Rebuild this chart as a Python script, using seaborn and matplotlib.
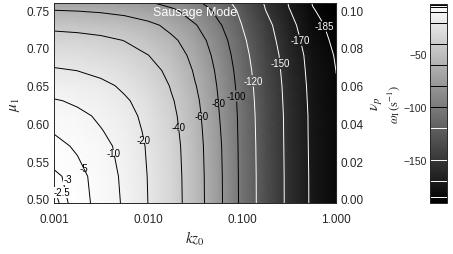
import numpy as np
import matplotlib
matplotlib.use("Agg")
import matplotlib.pyplot as plt
from matplotlib.colors import Normalize
from matplotlib.ticker import MultipleLocator
import seaborn as sns

# grid: kz0 (log axis) x mu1 rows, omega_I in s^-1
kz0 = [0.001, 0.00178, 0.00316, 0.00562, 0.01, 0.0178, 0.0316,
       0.0562, 0.1, 0.178, 0.316, 0.562, 1.0]
mu1 = [0.49, 0.53, 0.57, 0.59, 0.61, 0.63, 0.65, 0.67, 0.69, 0.71, 0.73, 0.75, 0.77]

omega_049 = [-2.2, -3.6, -6.4, -10.9, -20.0, -32.5, -51.8, -76.1, -105.6, -132.5, -156.0, -173.5, -183.5]
omega_053 = [-2.65, -3.9, -6.9, -11.4, -20.4, -32.9, -52.1, -76.3, -105.8, -132.6, -156.1, -173.6, -183.7]
omega_057 = [-4.2, -5.5, -8.1, -12.6, -21.4, -33.9, -52.9, -77.0, -106.3, -133.0, -156.5, -174.0, -184.0]
omega_059 = [-5.2, -6.8, -9.6, -14.5, -22.5, -35.2, -53.8, -78.0, -106.6, -133.5, -156.6, -174.2, -184.1]
omega_061 = [-7.0, -8.5, -11.3, -16.1, -24.0, -36.5, -54.9, -79.1, -106.9, -134.0, -156.7, -174.3, -184.2]
omega_063 = [-9.5, -11.1, -13.8, -18.5, -26.2, -38.5, -56.5, -80.3, -107.8, -134.9, -157.4, -174.9, -184.4]
omega_065 = [-13.4, -15.0, -17.6, -22.1, -29.6, -41.5, -59.0, -82.3, -109.2, -135.8, -158.2, -175.5, -184.6]
omega_067 = [-18.7, -20.1, -22.6, -26.9, -34.1, -45.5, -62.3, -84.8, -111.0, -137.4, -159.5, -176.3, -185.1]
omega_069 = [-25.2, -26.5, -28.9, -32.9, -39.7, -50.5, -66.5, -88.1, -113.5, -139.0, -160.8, -177.2, -186.2]
omega_071 = [-33.2, -34.5, -36.6, -40.4, -46.6, -56.7, -71.7, -92.1, -116.4, -142.0, -163.4, -179.4, -188.1]
omega_073 = [-44.2, -45.3, -47.3, -50.6, -56.2, -65.2, -78.8, -97.6, -120.2, -145.0, -166.0, -181.5, -190.0]
omega_075 = [-60.1, -61.0, -62.6, -65.4, -70.0, -77.6, -89.3, -105.6, -125.8, -150.0, -169.5, -184.3, -192.5]
omega_077 = [-79.4, -80.1, -81.3, -83.5, -87.1, -93.1, -102.4, -115.8, -132.9, -155.0, -173.0, -187.0, -195.0]

levels = [-185, -170, -150, -120, -100, -80, -60, -40, -20, -10, -5, -3, -2.5]
line_colors = ["white"] * 4 + ["black"] * 9
# where each contour label sits (kz0, mu1), same order as levels
label_spots = [(0.76, 0.729), (0.385, 0.709), (0.235, 0.679), (0.122, 0.656),
               (0.080, 0.636), (0.059, 0.627), (0.037, 0.610), (0.022, 0.595),
               (0.0098, 0.579), (0.0047, 0.562), (0.0022, 0.542),
               (0.00141, 0.526), (0.00122, 0.509)]

xticks = [0.001, 0.01, 0.1, 1.0]
xtick_labels = ["0.001", "0.010", "0.100", "1.000"]
nu_ticks = [0.0, 0.02, 0.04, 0.06, 0.08, 0.10]
cbar_ticks = [-50, -100, -150]

omega = np.array([omega_049, omega_053, omega_057, omega_059, omega_061,
                  omega_063, omega_065, omega_067, omega_069, omega_071,
                  omega_073, omega_075, omega_077])

sns.set_style("ticks")
plt.rcParams["font.family"] = ["Liberation Sans", "DejaVu Sans"]
plt.rcParams["mathtext.fontset"] = "stix"

fig = plt.figure(figsize=(4.53, 2.55), dpi=100)
ax = fig.add_axes([0.119, 0.2, 0.623, 0.783])

cmap = sns.color_palette("gray", as_cmap=True)
norm = Normalize(vmin=-191, vmax=-2.2)
mesh = ax.pcolormesh(kz0, mu1, omega, cmap=cmap, norm=norm,
                     shading="gouraud", rasterized=True)
ax.set_xscale("log")
ax.set_xlim(0.001, 1.0)
ax.set_ylim(0.4947, 0.759)

# one contour set per level so each label lands on its own line
for lev, col, spot in zip(levels, line_colors, label_spots):
    cs = ax.contour(kz0, mu1, omega, levels=[lev], colors=col,
                    linewidths=0.7, linestyles="solid")
    if lev > -4:
        # the tiny corner contours: plain text on a patch of the local shade
        ax.text(spot[0], spot[1], f"{lev:g}", fontsize=7, color=col,
                ha="center", va="center",
                bbox=dict(boxstyle="square,pad=0.05", fc=cmap(norm(lev)),
                          ec="none"))
        continue
    texts = ax.clabel(cs, fmt=lambda v: f"{v:g}", manual=[spot],
                      fontsize=7, inline=True, inline_spacing=-4)
    for t in texts:
        t.set_rotation(0)

ax.text(0.5, 0.955, "Sausage Mode", transform=ax.transAxes, color="white",
        fontsize=9, ha="center", va="center")

ax.set_xticks(xticks, labels=xtick_labels)
ax.yaxis.set_major_locator(MultipleLocator(0.05))
ax.yaxis.set_minor_locator(MultipleLocator(0.01))
ax.yaxis.set_major_formatter("{x:.2f}")
ax.tick_params(which="both", direction="in", top=True, right=False,
               labelsize=8.5, width=0.6)
ax.tick_params(which="major", length=5, pad=7)
ax.tick_params(axis="y", which="major", pad=3)
ax.tick_params(which="minor", length=2.5)
ax.set_xlabel(r"$kz_0$", fontsize=11, labelpad=3)
ax.set_ylabel(r"$\mu_1$", fontsize=11, labelpad=3)
for sp in ax.spines.values():
    sp.set_linewidth(0.7)

sec = ax.secondary_yaxis("right", functions=(lambda m: (m - 0.5) / 2.5,
                                             lambda n: 0.5 + 2.5 * n))
sec.set_yticks(nu_ticks)
sec.yaxis.set_major_formatter("{x:.2f}")
sec.yaxis.set_minor_locator(MultipleLocator(0.005))
sec.tick_params(which="both", direction="in", labelsize=8.5, width=0.6, pad=3)
sec.tick_params(which="major", length=5)
sec.tick_params(which="minor", length=2.5)
sec.set_ylabel(r"$\nu_p$", fontsize=11, rotation=90, labelpad=3)

cax = fig.add_axes([0.949, 0.2, 0.038, 0.78])
cbar = fig.colorbar(mesh, cax=cax)
cbar.add_lines(levels, line_colors, [0.7] * len(levels))
cbar.set_ticks(cbar_ticks)
cbar.ax.yaxis.set_ticks_position("left")
cbar.ax.yaxis.set_label_position("left")
cbar.ax.tick_params(labelsize=7.5, length=0, pad=2)
cbar.set_label(r"$\omega_{\rm I}\,({\rm s}^{-1})$", fontsize=9, labelpad=1)
cbar.outline.set_linewidth(0.7)

fig.savefig("out.png", dpi=100)
